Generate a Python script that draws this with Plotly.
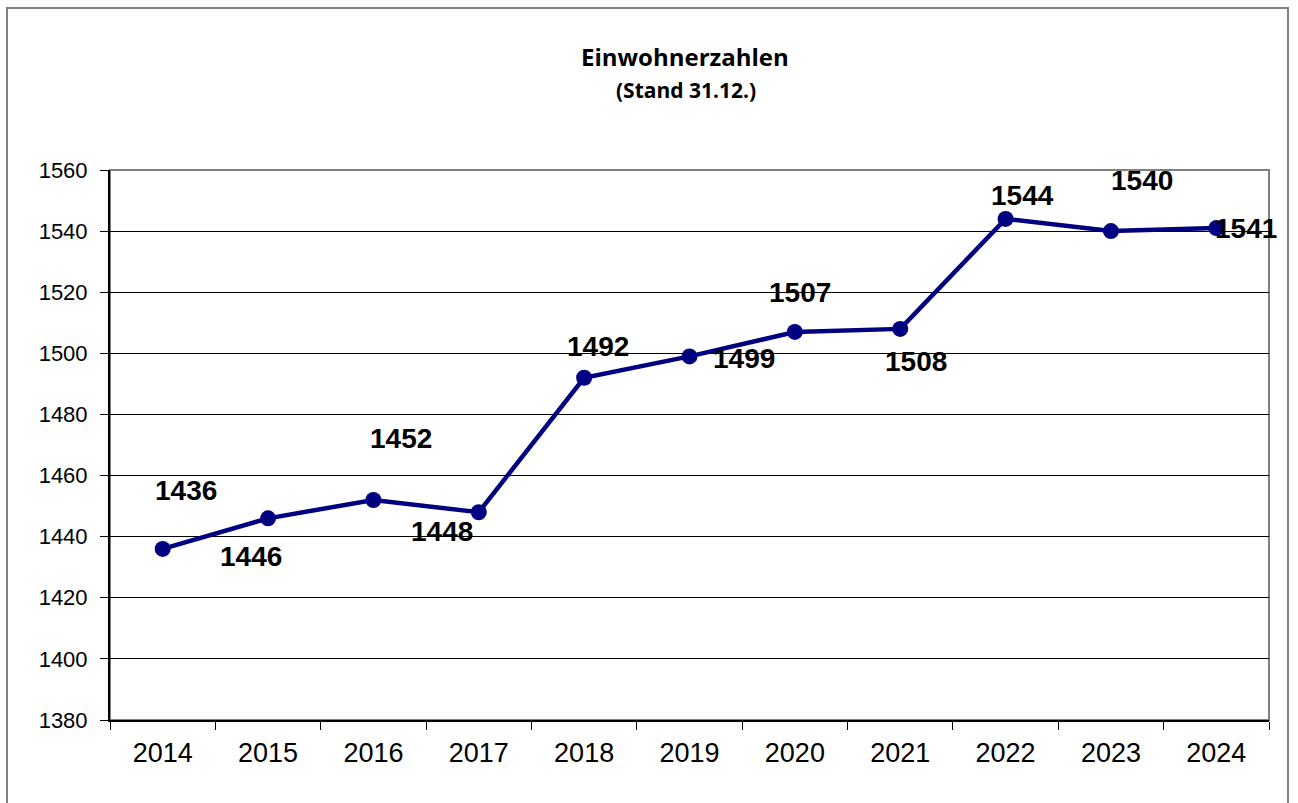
import plotly.graph_objects as go

years = ["2014", "2015", "2016", "2017", "2018", "2019", "2020", "2021", "2022", "2023", "2024"]
values = [1436, 1446, 1452, 1448, 1492, 1499, 1507, 1508, 1544, 1540, 1541]
label_dx = [23, -17, 28, -37, 14, 54, 5, 16, 17, 31, 30]
label_dy = [-58, 38, -62, 19, -31, 2, -39, 33, -23, -51, 0]

W, H = 1298, 803
L, R, T, B = 110, 29, 170, 83
pw, ph = W - L - R, H - T - B

fig = go.Figure()
fig.add_trace(go.Scatter(
    x=years, y=values, mode="lines+markers",
    line=dict(color="#000080", width=4.5),
    marker=dict(color="#000080", size=16),
    showlegend=False, hoverinfo="x+y",
))

for i, (v, dx, dy) in enumerate(zip(values, label_dx, label_dy)):
    fig.add_annotation(x=i, y=v, text=f"<b>{v}</b>", showarrow=False,
                       xshift=dx, yshift=-dy, font=dict(family="Arial", size=28, color="black"),
                       xanchor="center", yanchor="middle")

fig.add_annotation(xref="paper", yref="paper", x=(685 - L) / pw, y=(H - B - 57) / ph,
                   text="<b>Einwohnerzahlen</b>", showarrow=False,
                   font=dict(family="Open Sans", size=24, color="black"), xanchor="center", yanchor="middle")
fig.add_annotation(xref="paper", yref="paper", x=(686 - L) / pw, y=(H - B - 90) / ph,
                   text="<b>(Stand 31.12.)</b>", showarrow=False,
                   font=dict(family="Open Sans", size=21, color="black"), xanchor="center", yanchor="middle")

# outer frame
fig.add_shape(type="rect", xref="paper", yref="paper",
              x0=(7 - L) / pw, x1=(1288 - L) / pw, y0=(H - B - 820) / ph, y1=(H - B - 8) / ph,
              line=dict(color="#808080", width=2), layer="below")
# plot area frame
fig.add_shape(type="rect", xref="paper", yref="paper", x0=0, x1=1, y0=0, y1=1,
              line=dict(color="#808080", width=2), layer="below")

fig.update_layout(
    width=W, height=H,
    margin=dict(l=L, r=R, t=T, b=B),
    paper_bgcolor="white", plot_bgcolor="white",
    xaxis=dict(type="category", tickson="boundaries", ticks="outside", ticklen=8,
               tickcolor="black", showline=True, linecolor="black", linewidth=2,
               showgrid=False, tickfont=dict(family="Arial", size=27, color="black"),
               ticklabelstandoff=8, range=[-0.5, 10.5]),
    yaxis=dict(range=[1380, 1560], dtick=20, ticks="outside", ticklen=8, tickcolor="black",
               showline=True, linecolor="black", linewidth=2, showgrid=True,
               gridcolor="black", gridwidth=1, zeroline=False, ticklabelstandoff=8,
               tickfont=dict(family="Arial", size=22, color="black")),
)

fig.write_html("out.html", config={"displayModeBar": False},
               post_script="document.body.style.margin='0';document.body.style.overflow='hidden';")
